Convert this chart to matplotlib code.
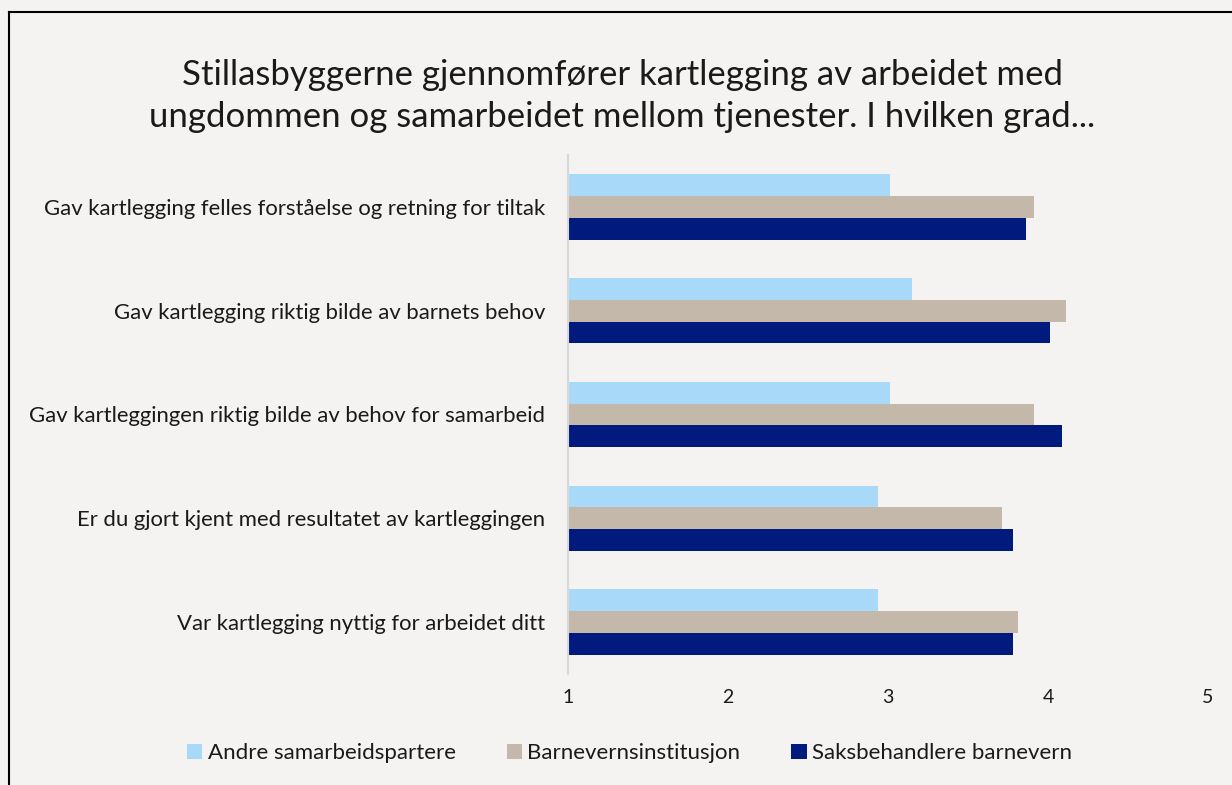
import matplotlib
matplotlib.use("Agg")
import matplotlib.pyplot as plt
import numpy as np
from matplotlib.lines import Line2D

plt.rcParams['font.family'] = ['Lato', 'DejaVu Sans']

categories = [
    "Gav kartlegging felles forståelse og retning for tiltak",
    "Gav kartlegging riktig bilde av barnets behov",
    "Gav kartleggingen riktig bilde av behov for samarbeid",
    "Er du gjort kjent med resultatet av kartleggingen",
    "Var kartlegging nyttig for arbeidet ditt",
]
series_names = ["Andre samarbeidspartere", "Barnevernsinstitusjon", "Saksbehandlere barnevern"]
andre = [3.01, 3.15, 3.01, 2.94, 2.94]
institusjon = [3.91, 4.11, 3.91, 3.71, 3.81]
saksbehandlere = [3.86, 4.01, 4.09, 3.78, 3.78]
xticks = [1, 2, 3, 4, 5]
title = ("Stillasbyggerne gjennomfører kartlegging av arbeidet med\n"
         "ungdommen og samarbeidet mellom tjenester. I hvilken grad...")

colors = ["#A9D9F9", "#C4B8AA", "#001A7E"]
bg = "#F5F3F1"

fig = plt.figure(figsize=(12.32, 7.85), dpi=100, facecolor=bg)
ax = fig.add_axes([568/1232, 1-674/785, 640/1232, 519/785], facecolor=bg)

y = np.arange(len(categories))
h = 0.21
base = 1
for i, (vals, name) in enumerate(zip([andre, institusjon, saksbehandlere], series_names)):
    vals = np.array(vals)
    ax.barh(y + (i - 1) * h, vals - base, height=h, left=base, color=colors[i], label=name)

ax.set_xlim(1, 5)
ax.set_ylim(len(categories) - 0.5, -0.5)
ax.set_xticks(xticks)
ax.set_xticklabels([str(t) for t in xticks], fontsize=14)
ax.set_yticks(y)
ax.set_yticklabels(categories, fontsize=15.9)
ax.tick_params(axis='both', length=0, colors="#1a1a1a")
ax.tick_params(axis='x', pad=11)
ax.tick_params(axis='y', pad=16.5)
for s in ["top", "right", "bottom"]:
    ax.spines[s].set_visible(False)
ax.spines["left"].set_color("#D9D9D9")
ax.spines["left"].set_linewidth(1.5)

fig.text(0.505, 1-96/785, title, ha="center", va="center", fontsize=25, color="#1a1a1a", linespacing=1.35)

handles, labels = ax.get_legend_handles_labels()
leg = fig.legend(handles, labels, loc="center", bbox_to_anchor=(0.511, 1-753/785), ncol=3,
                 frameon=False, fontsize=16, handlelength=0.68, handleheight=0.68,
                 handletextpad=0.25, columnspacing=2.3)
for t in leg.get_texts():
    t.set_color("#1a1a1a")

# figure border (left and top visible)
fig.add_artist(Line2D([8.5/1232, 8.5/1232], [0, 1-12/785], transform=fig.transFigure, color="black", lw=1.5))
fig.add_artist(Line2D([8.5/1232, 1], [1-12/785, 1-12/785], transform=fig.transFigure, color="black", lw=1.5))

fig.savefig("out.png", dpi=100, facecolor=bg)
